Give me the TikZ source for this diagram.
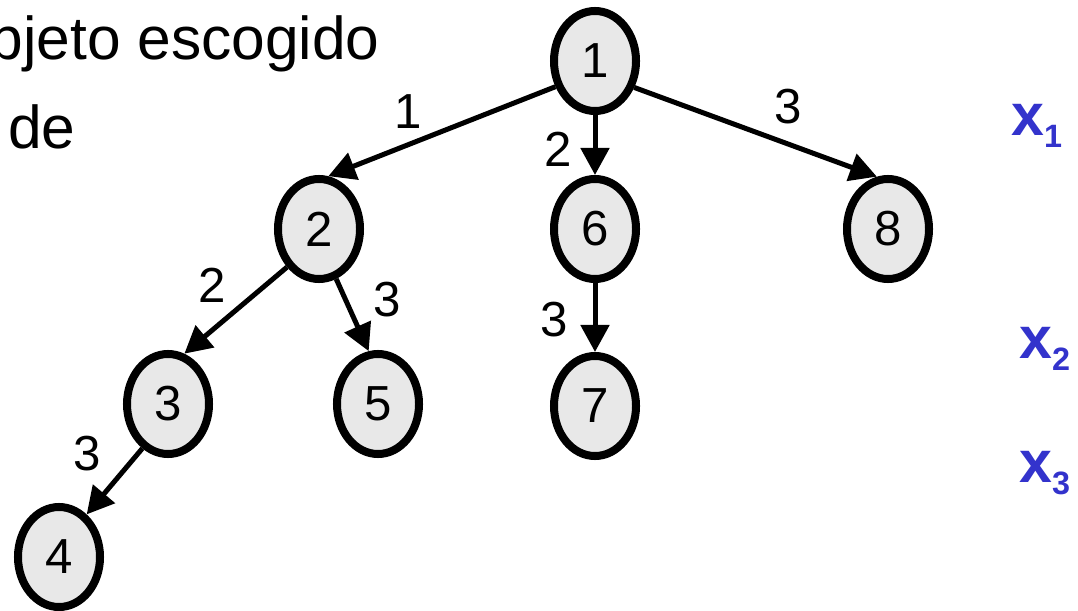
\documentclass[tikz,border=0pt]{standalone}
\usepackage{fontspec}
\setmainfont{Liberation Sans}
\usetikzlibrary{shapes.geometric,arrows.meta}
\definecolor{ndgray}{RGB}{232,232,232}
\definecolor{xblue}{RGB}{51,51,204}

\begin{document}
\begin{tikzpicture}[x=0.025cm, y=-0.025cm]
		\tikzset{nd/.style={ellipse, draw=black, fill=ndgray, line width=0.2cm, minimum width=2.05cm, minimum height=2.5cm, inner sep=0pt, font=\fontsize{35}{40}\selectfont}};
		\tikzset{lb/.style={inner sep=0pt, font=\fontsize{35}{40}\selectfont}};
		\tikzset{xv/.style={anchor=base west, inner sep=0pt, text=xblue, font=\fontsize{42}{46}\selectfont\bfseries}};
		\tikzset{ar/.style={line width=0.125cm, -{Triangle[length=0.675cm, width=0.7cm]}}};

		\useasboundingbox (0,0) rectangle (1078,611);
		\clip (0,0) rectangle (1078,611);

		\node[anchor=base east, inner sep=0pt, font=\fontsize{43}{48}\selectfont] (obj) at (380,60) {objeto escogido};
		\node[anchor=base west, inner sep=0pt, font=\fontsize{43}{48}\selectfont] (de) at (8,148) {de};

		\node[nd] (n1) at (595, 61) {1};
		\node[nd] (n2) at (319, 229) {2};
		\node[nd] (n6) at (595, 229) {6};
		\node[nd] (n8) at (888, 229) {8};
		\node[nd] (n3) at (168, 404) {3};
		\node[nd] (n5) at (378, 404) {5};
		\node[nd] (n7) at (595, 406) {7};
		\node[nd] (n4) at (59, 557) {4};

		\draw[ar] (n1.213) to (n2.80);
		\draw[ar] (n1) to (n6);
		\draw[ar] (n1.326) to (n8.102);
		\draw[ar] (n2.230) to (n3.72);
		\draw[ar] (n2.289) to (n5.100);
		\draw[ar] (n6) to (n7);
		\draw[ar] (n3.240) to (n4.57);

		\node[lb] (l12) at (408, 112) {1};
		\node[lb] (l16) at (558, 149) {2};
		\node[lb] (l18) at (788, 107) {3};
		\node[lb] (l23) at (212, 285) {2};
		\node[lb] (l25) at (387, 300) {3};
		\node[lb] (l67) at (554, 320) {3};
		\node[lb] (l34) at (87, 454) {3};

		\node[xv] (x1) at (1011, 135) {x\raisebox{-0.3cm}{\fontsize{23}{24}\selectfont 1}};
		\node[xv] (x2) at (1019, 358) {x\raisebox{-0.3cm}{\fontsize{23}{24}\selectfont 2}};
		\node[xv] (x3) at (1019, 482) {x\raisebox{-0.3cm}{\fontsize{23}{24}\selectfont 3}};
	\end{tikzpicture}
\end{document}
